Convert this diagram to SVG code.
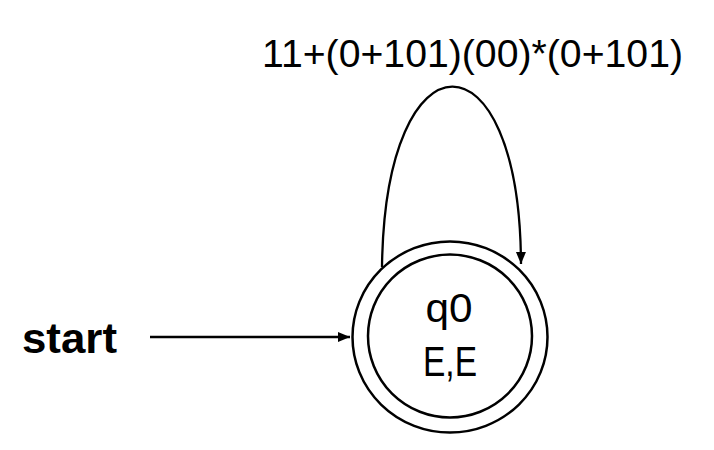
<svg xmlns="http://www.w3.org/2000/svg" width="714" height="450" viewBox="0 0 714 450">
<style>
.t{font-family:"Liberation Sans",Arial,sans-serif;fill:#000}
.c{fill:none;stroke:#000;stroke-width:2.5}
.e{fill:none;stroke:#000;stroke-width:2.3}
</style>
<defs>
<marker id="ah" markerUnits="userSpaceOnUse" markerWidth="14" markerHeight="12" refX="12" refY="5" orient="auto">
<path d="M0,0 L12,5 L0,10 z" fill="#000"/>
</marker>
</defs>
<rect width="714" height="450" fill="#fff"/>
<g id="connectors">
<path class="e" d="M150,337 L350,337" marker-end="url(#ah)"/>
<path class="e" d="M382,267 C385,27 520,27 521,264" marker-end="url(#ah)"/>
<text class="t" x="262" y="67" font-size="38.5" textLength="421" lengthAdjust="spacingAndGlyphs">11+(0+101)(00)*(0+101)</text>
</g>
<g id="start">
<text class="t" x="22" y="353" font-size="42" font-weight="bold" textLength="95" lengthAdjust="spacingAndGlyphs">start</text>
</g>
<g id="q0">
<ellipse class="c" cx="450" cy="337" rx="97.5" ry="95.5"/>
<ellipse class="c" cx="450" cy="336" rx="82" ry="81.5"/>
<text class="t" x="449" y="322" font-size="40" text-anchor="middle" textLength="47" lengthAdjust="spacingAndGlyphs">q0</text>
<text class="t" x="450" y="376" font-size="42" text-anchor="middle" textLength="54" lengthAdjust="spacingAndGlyphs">E,E</text>
</g>
</svg>
